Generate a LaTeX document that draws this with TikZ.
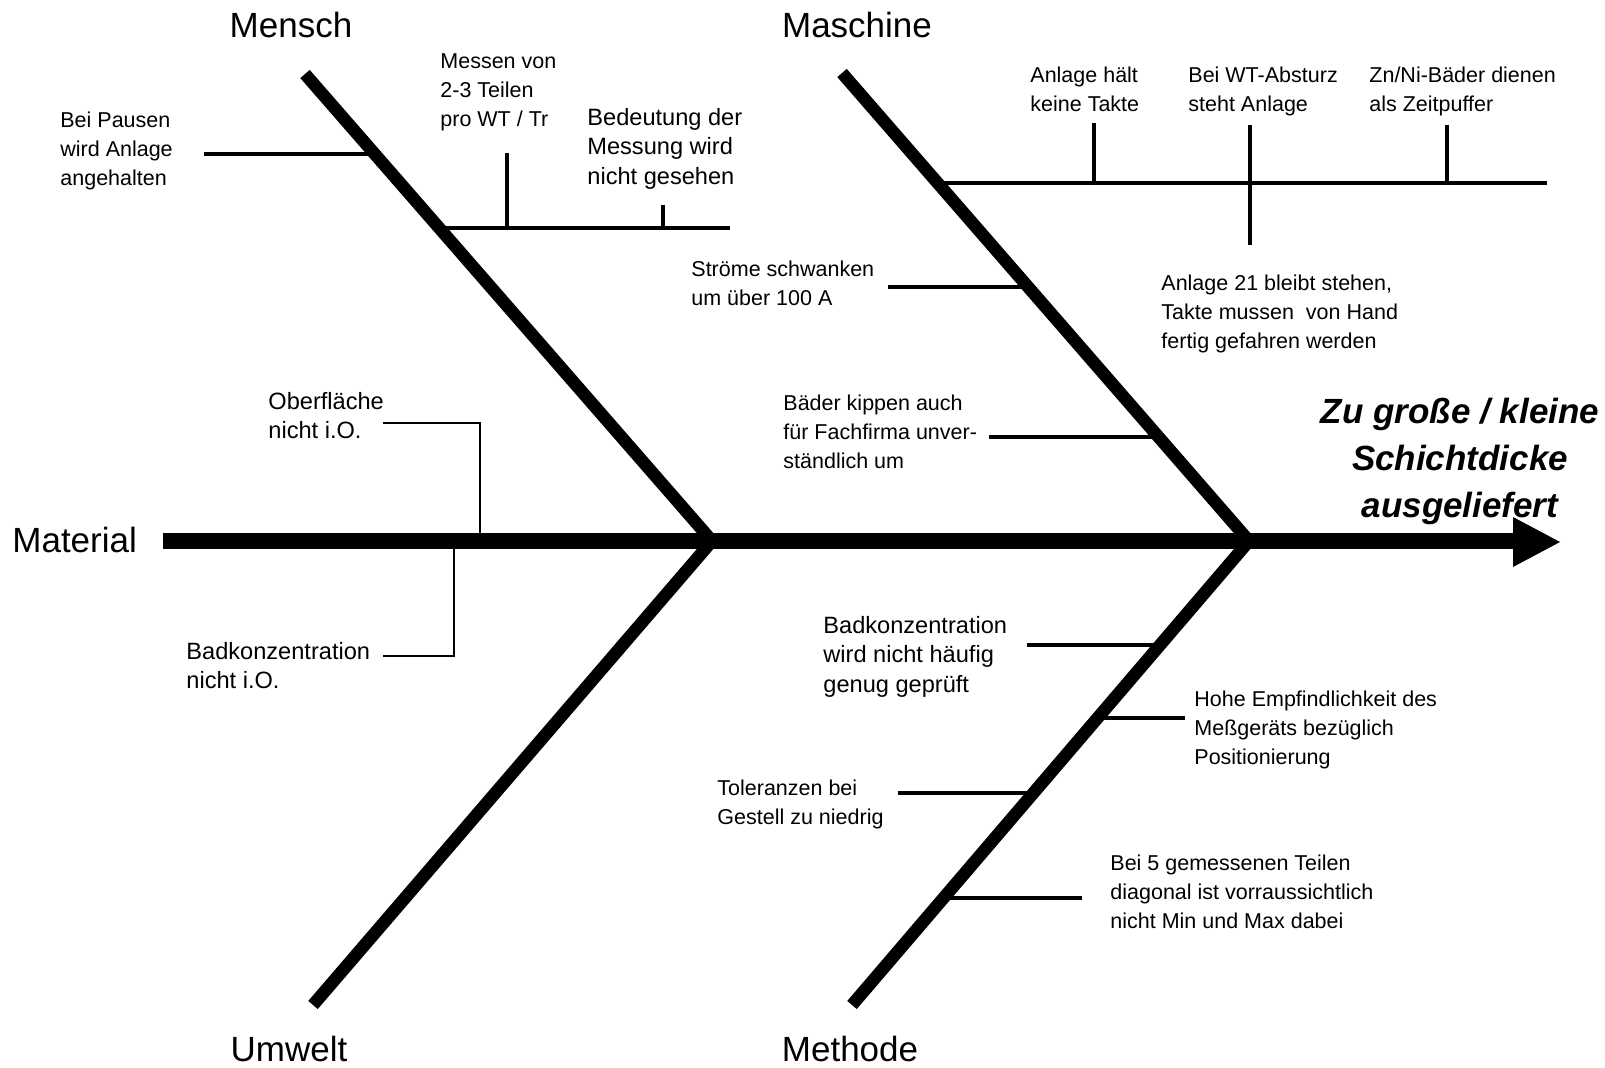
\documentclass[tikz,border=0pt]{standalone}
\usepackage{fontspec}
\setmainfont{Liberation Sans}
\begin{document}
\begin{tikzpicture}[x=0.5pt,y=-0.5pt,
  spine/.style={line width=8.25pt},
  bone/.style={line width=6.25pt},
  twig/.style={line width=2pt},
  thinline/.style={line width=1pt},
  txt/.style={font=\fontsize{10.75}{14.5}\selectfont, align=left, inner sep=0pt, anchor=north west},
  txtl/.style={font=\fontsize{11.8}{14.75}\selectfont, align=left, inner sep=0pt, anchor=north west},
  cat/.style={font=\fontsize{17.5}{21}\selectfont, inner sep=0pt, anchor=base},
  effect/.style={font=\fontsize{17.5}{23.5}\selectfont\bfseries\itshape, align=center, inner sep=0pt, anchor=north}]

\fill[white] (0,0) rectangle (1605,1068);
\useasboundingbox (0,0) rectangle (1605,1068);

% main coordinates
\coordinate (sp0) at (163,541);
\coordinate (sp1) at (1515,541);
\coordinate (ah1) at (1513,517);
\coordinate (ahtip) at (1560,542);
\coordinate (ah2) at (1513,567);
\coordinate (v1) at (712,541);
\coordinate (v2) at (1249,541);
\coordinate (mtop) at (305,74);
\coordinate (ubot) at (313,1005);
\coordinate (mstop) at (842,73);
\coordinate (mebot) at (852,1005);

% Material connectors
\coordinate (o1) at (383,423);
\coordinate (o2) at (480,541);
\coordinate (b1) at (383,656);
\coordinate (b2) at (454,541);
\draw[thinline] (o1) -| (o2);
\draw[thinline] (b1) -| (b2);

% Mensch branches
\coordinate (p1a) at (204,154);  \coordinate (p1b) at (374.7,154);
\coordinate (p2a) at (439.2,228); \coordinate (p2b) at (730,228);
\coordinate (t1a) at (507,153);  \coordinate (t1b) at (507,228);
\coordinate (t2a) at (663,205);  \coordinate (t2b) at (663,228);
\draw[twig] (p1a) -- (p1b);
\draw[twig] (p2a) -- (p2b);
\draw[twig] (t1a) -- (t1b);
\draw[twig] (t2a) -- (t2b);

% Maschine branches
\coordinate (q1a) at (937.7,183); \coordinate (q1b) at (1547,183);
\coordinate (k1a) at (1094,123); \coordinate (k1b) at (1094,183);
\coordinate (k2a) at (1250,125); \coordinate (k2b) at (1250,245);
\coordinate (k3a) at (1447,125); \coordinate (k3b) at (1447,183);
\coordinate (s1a) at (888,287);  \coordinate (s1b) at (1028.1,287);
\coordinate (s2a) at (989,437);  \coordinate (s2b) at (1158.6,437);
\draw[twig] (q1a) -- (q1b);
\draw[twig] (k1a) -- (k1b);
\draw[twig] (k2a) -- (k2b);
\draw[twig] (k3a) -- (k3b);
\draw[twig] (s1a) -- (s1b);
\draw[twig] (s2a) -- (s2b);

% Methode branches
\coordinate (m1a) at (1027,645);   \coordinate (m1b) at (1160,645);
\coordinate (m2a) at (1097.6,718); \coordinate (m2b) at (1185,718);
\coordinate (m3a) at (898,793);    \coordinate (m3b) at (1033.4,793);
\coordinate (m4a) at (943.6,898);  \coordinate (m4b) at (1082,898);
\draw[twig] (m1a) -- (m1b);
\draw[twig] (m2a) -- (m2b);
\draw[twig] (m3a) -- (m3b);
\draw[twig] (m4a) -- (m4b);

% bones
\draw[bone] (mtop) -- (v1);
\draw[bone] (v1) -- (ubot);
\draw[bone] (mstop) -- (v2);
\draw[bone] (v2) -- (mebot);

% spine and arrow head
\draw[spine] (sp0) -- (sp1);
\fill (ah1) -- (ahtip) -- (ah2) -- cycle;

% category labels
\node[cat] (lMensch) at (291,38) {Mensch};
\node[cat] (lMaschine) at (857,38) {Maschine};
\node[cat, anchor=base west] (lMaterial) at (12,553) {Material};
\node[cat] (lUmwelt) at (289,1061) {Umwelt};
\node[cat] (lMethode) at (850,1061) {Methode};

% effect
\node[effect] (eff) at (1460,390) {\strut Zu große / kleine\\Schichtdicke\\ausgeliefert};

% cause texts
\node[txt] (tPausen) at (60,107) {\strut Bei Pausen\\wird Anlage\\angehalten};
\node[txt] (tMessen) at (440,47.5) {\strut Messen von\\2-3 Teilen\\pro WT / Tr};
\node[txtl] (tBed) at (587,104) {\strut Bedeutung der\\Messung wird\\nicht gesehen};
\node[txt] (tHalt) at (1030,62) {\strut Anlage hält\\keine Takte};
\node[txt] (tWT) at (1188,62) {\strut Bei WT-Absturz\\steht Anlage};
\node[txt] (tZn) at (1369,62) {\strut Zn/Ni-Bäder dienen\\als Zeitpuffer};
\node[txt] (t21) at (1161,269.5) {\strut Anlage 21 bleibt stehen,\\Takte mussen\ \ von Hand\\fertig gefahren werden};
\node[txt] (tStr) at (691,255.5) {\strut Ströme schwanken\\um über 100 A};
\node[txt] (tBad) at (783,389.5) {\strut Bäder kippen auch\\für Fachfirma unver-\\ständlich um};
\node[txtl] (tBadk) at (823,612) {\strut Badkonzentration\\wird nicht häufig\\genug geprüft};
\node[txt] (tHohe) at (1194,686) {\strut Hohe Empfindlichkeit des\\Meßgeräts bezüglich\\Positionierung};
\node[txt] (tTol) at (717,775) {\strut Toleranzen bei\\Gestell zu niedrig};
\node[txt] (tBei5) at (1110,850) {\strut Bei 5 gemessenen Teilen\\diagonal ist vorraussichtlich\\nicht Min und Max dabei};
\node[txtl] (tOber) at (268,388) {\strut Oberfläche\\nicht i.O.};
\node[txtl] (tBadm) at (186,638) {\strut Badkonzentration\\nicht i.O.};
\end{tikzpicture}
\end{document}
